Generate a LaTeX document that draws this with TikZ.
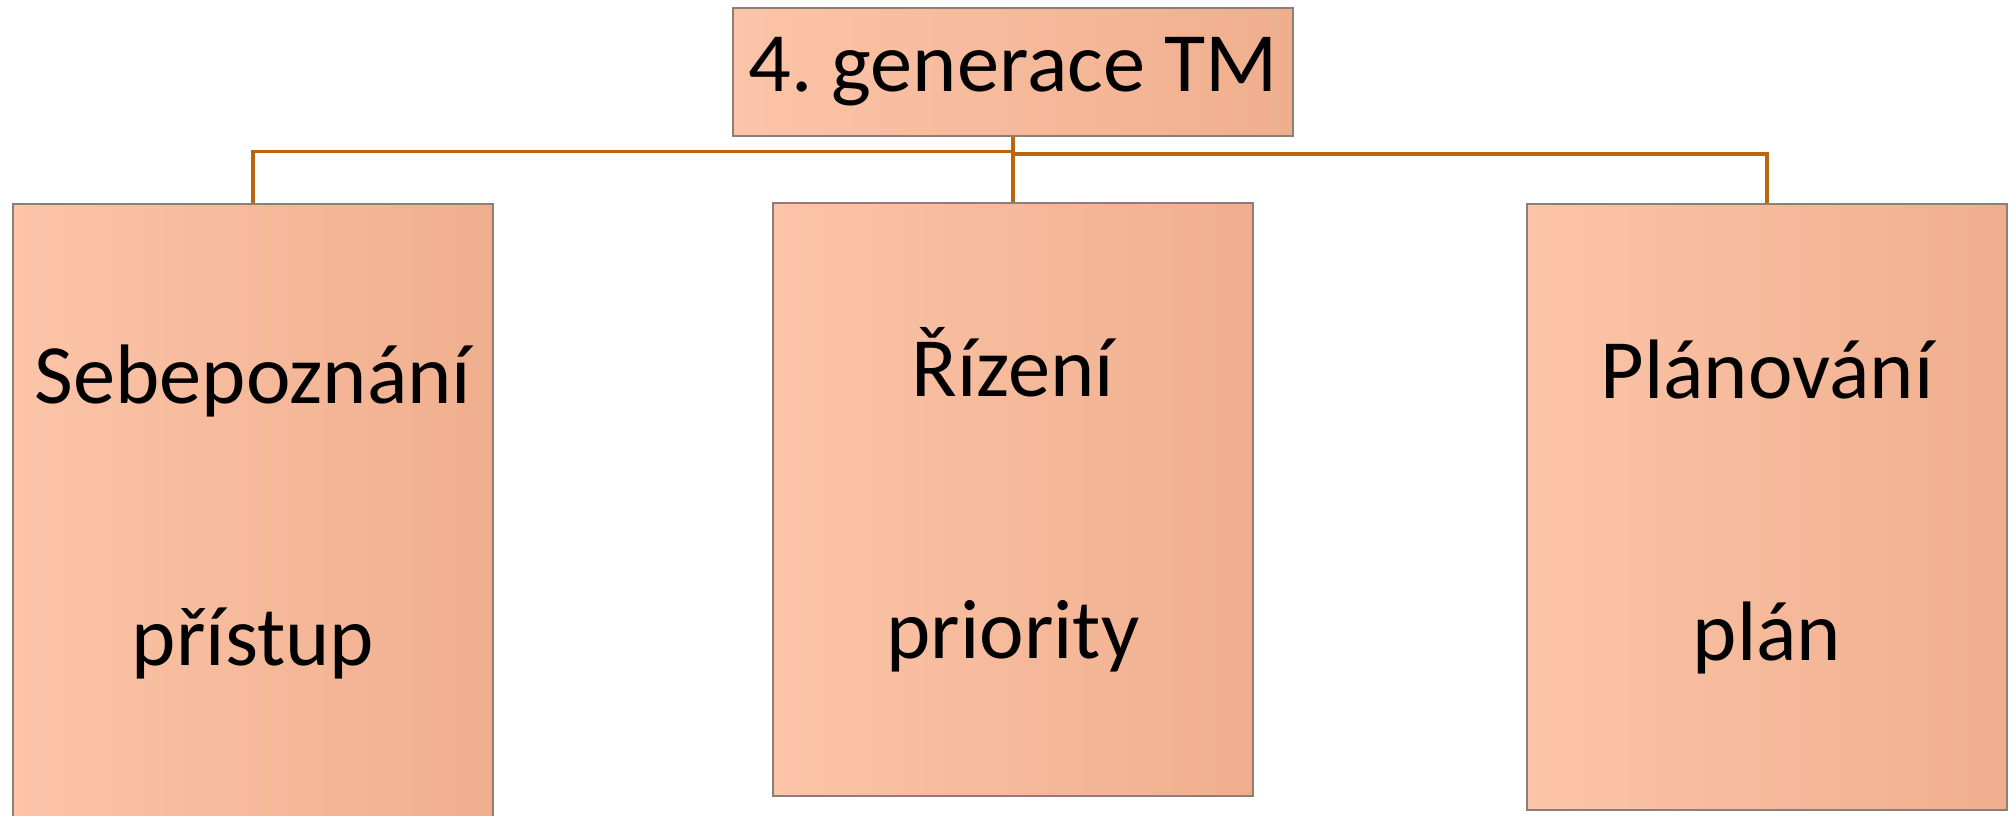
\documentclass[tikz,border=0pt]{standalone}
\usepackage{fontspec}
\setmainfont{Carlito}
\usepackage{xcolor}
\usepackage{tikz}
\frenchspacing

\definecolor{peachL}{HTML}{FCC4A8}
\definecolor{peachR}{HTML}{EFAF8E}
\definecolor{boxline}{HTML}{8C7F78}
\definecolor{busline}{HTML}{B9660F}

\begin{document}
\begin{tikzpicture}[x=0.01cm, y=-0.01cm,
    box/.style={rectangle, draw=boxline, line width=0.5pt, left color=peachL, right color=peachR, inner sep=0pt, align=center, font=\fontsize{24}{74.6}\selectfont},
    topbox/.style={box, minimum width=5.59cm, minimum height=1.28cm},
    childbox/.style={box, minimum width=4.8cm},
    line/.style={draw=busline, line width=0.9pt}
]
\useasboundingbox (0,0) rectangle (2014,816);

% Top
\node [topbox] (gen) at (1013,72) {4. generace TM};

% Children
\node [childbox, minimum height=6.16cm] (self) at (253,512) {Sebepoznání\\přístup};
\node [childbox, minimum height=5.93cm] (ctrl) at (1013,499.5) {Řízení\\priority};
\node [childbox, minimum height=6.06cm] (plan) at (1767,507) {Plánování\\plán};

% Connections
\coordinate (busL) at (1013,151.5);
\coordinate (busR) at (1013,154);
\draw [line] (gen.south) -- (ctrl.north);
\draw [line] (busL) -| (self.north);
\draw [line] (busR) -| (plan.north);

\end{tikzpicture}
\end{document}
